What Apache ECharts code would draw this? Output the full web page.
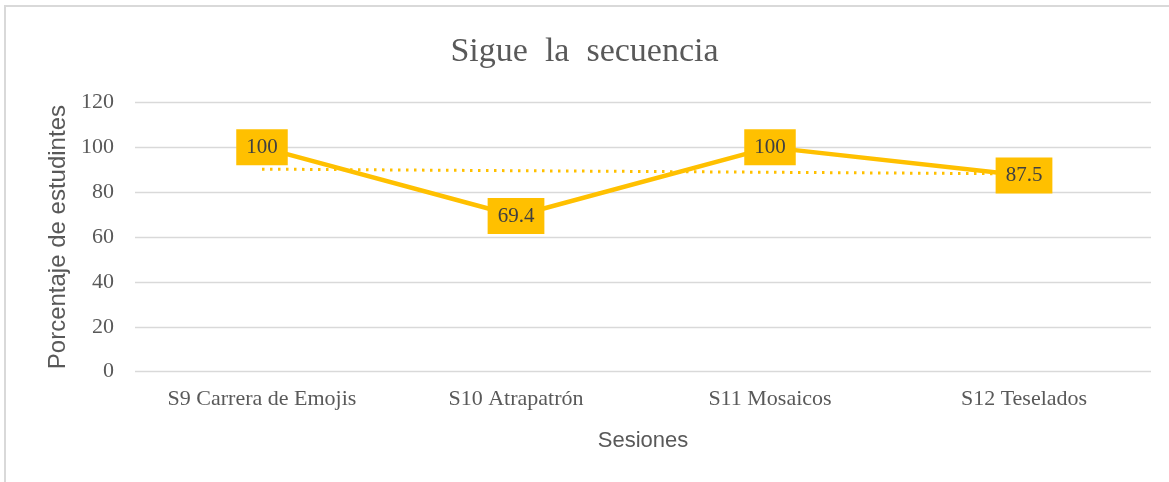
<!DOCTYPE html>
<html>
<head>
<meta charset="utf-8">
<script src="https://cdn.jsdelivr.net/npm/echarts@6/dist/echarts.min.js"></script>
<style>
  html, body { margin: 0; padding: 0; background: #ffffff; }
  #frame {
    position: absolute; left: 4px; top: 5px; width: 1165px; height: 477px;
    border-top: 2px solid #d9d9d9; border-left: 2px solid #d9d9d9; box-sizing: border-box;
  }
  #chart { position: absolute; left: 0; top: 0; width: 1169px; height: 482px; }
</style>
</head>
<body>
<div id="frame"></div>
<div id="chart"></div>
<script>
// Sessions and the share of students who completed each one
const sesiones = ['S9 Carrera de Emojis', 'S10 Atrapatrón', 'S11 Mosaicos', 'S12 Teselados'];
const porcentaje = [100, 69.4, 100, 87.5];
// Linear trend: values at the first and last session
const tendencia = [90.3, null, null, 88.2];
const yTicks = [0, 20, 40, 60, 80, 100, 120];

const gold = '#FFC000';
const grey = '#595959';
const serif = '"Liberation Serif", "Times New Roman", serif';
const sans = '"Liberation Sans", Arial, sans-serif';

const chart = echarts.init(document.getElementById('chart'), null, { renderer: 'canvas' });
chart.setOption({
  animation: false,
  backgroundColor: 'transparent',
  title: {
    text: 'Sigue  la  secuencia',
    left: 'center',
    top: 30,
    textStyle: { fontFamily: serif, fontSize: 34, fontWeight: 'normal', color: grey }
  },
  grid: { left: 135, right: 18, top: 102.5, bottom: 110.3 },
  xAxis: {
    type: 'category',
    data: sesiones,
    boundaryGap: true,
    axisLine: { show: false },
    axisTick: { show: false },
    axisLabel: { interval: 0, fontFamily: serif, fontSize: 22, color: grey, margin: 17 },
    name: 'Sesiones',
    nameLocation: 'middle',
    nameGap: 58,
    nameTextStyle: { fontFamily: sans, fontSize: 22, color: grey }
  },
  yAxis: {
    type: 'value',
    min: yTicks[0],
    max: yTicks[yTicks.length - 1],
    interval: yTicks[1] - yTicks[0],
    axisLine: { show: false },
    axisTick: { show: false },
    splitLine: { lineStyle: { color: '#d9d9d9', width: 1.3 } },
    axisLabel: { fontFamily: serif, fontSize: 22, color: grey, margin: 21 },
    name: 'Porcentaje de estudintes',
    nameLocation: 'middle',
    nameGap: 64,
    nameTextStyle: { fontFamily: sans, fontSize: 24, color: grey }
  },
  series: [
    {
      name: 'Tendencia',
      type: 'line',
      data: tendencia,
      connectNulls: true,
      symbol: 'none',
      lineStyle: { color: gold, width: 3, type: [2.5, 5.5] },
      z: 1
    },
    {
      name: 'Porcentaje',
      type: 'line',
      data: porcentaje,
      symbol: 'circle',
      symbolSize: 1,
      showSymbol: true,
      itemStyle: { color: 'rgba(0,0,0,0)' },
      lineStyle: { color: gold, width: 4.5 },
      label: {
        show: true,
        position: 'inside',
        fontFamily: serif,
        fontSize: 21,
        color: '#404040',
        backgroundColor: gold,
        padding: [8, 10, 7, 10]
      },
      z: 2
    }
  ]
});
</script>
</body>
</html>
